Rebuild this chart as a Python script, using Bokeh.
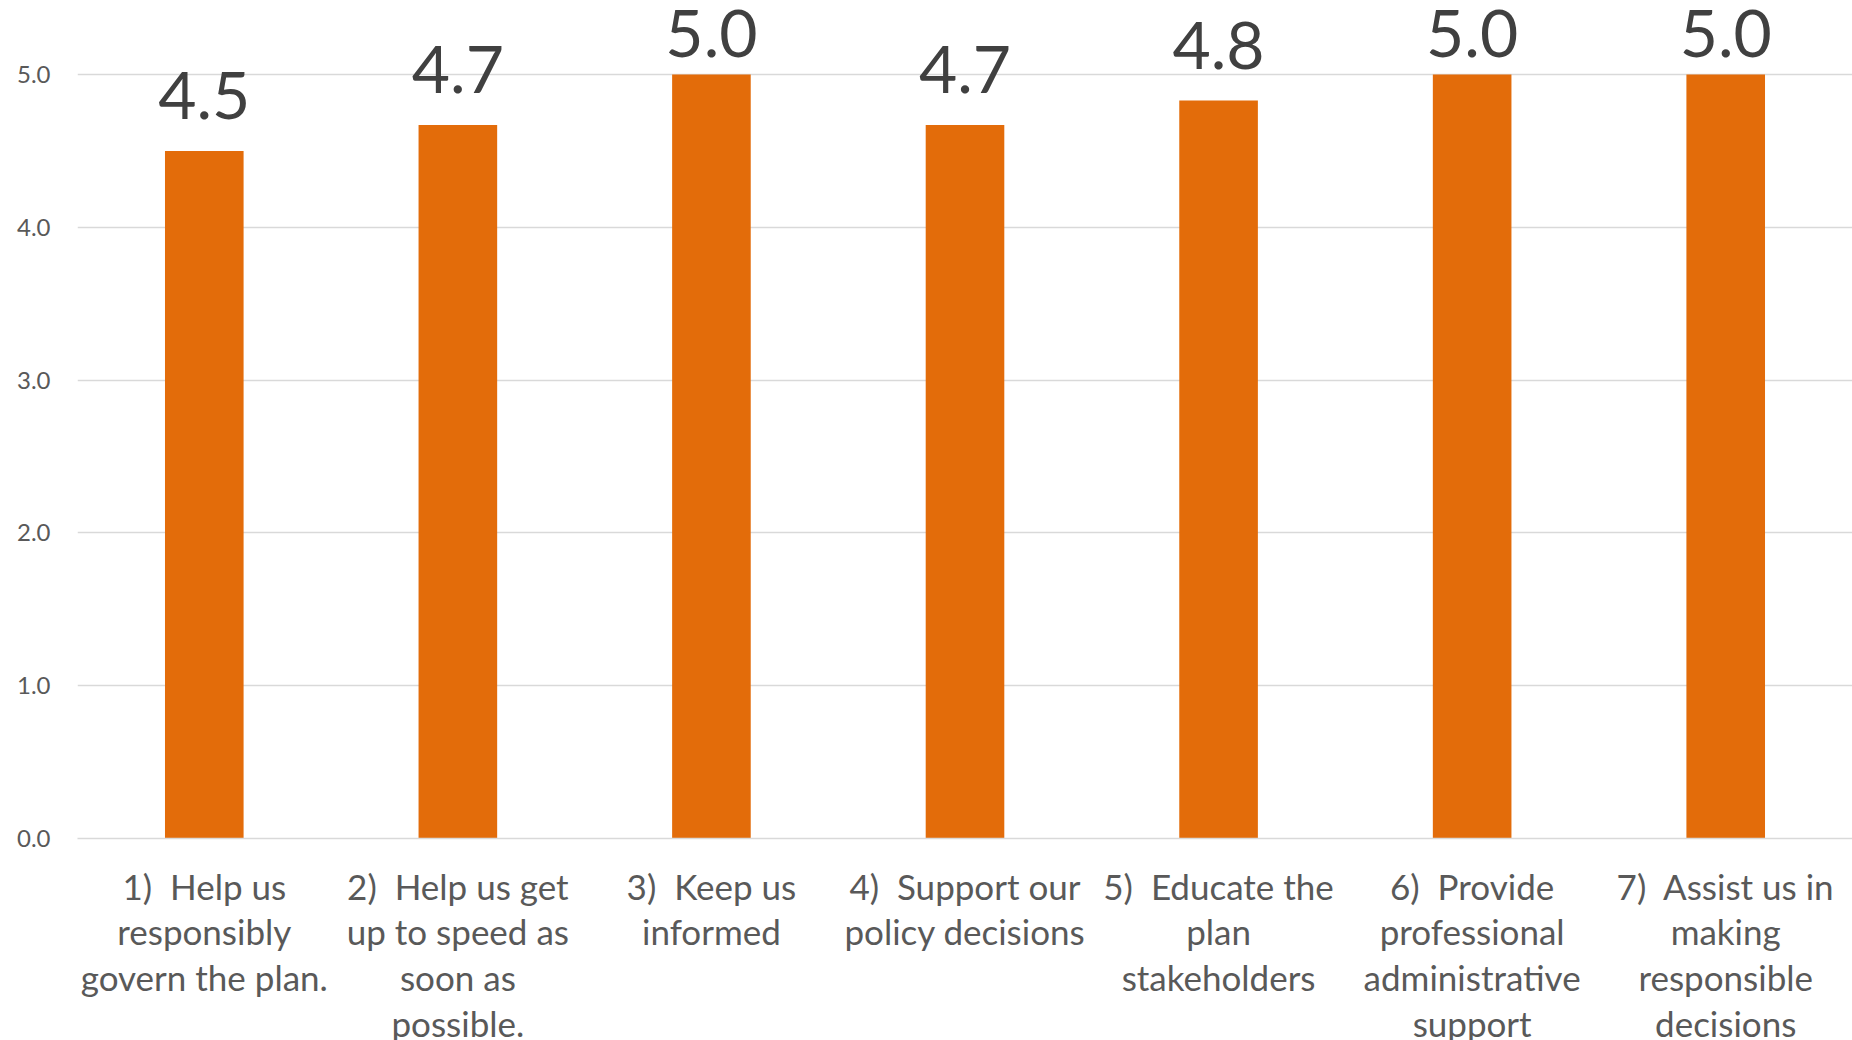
import numpy as np
from bokeh.plotting import figure
from bokeh.models import FactorRange, Range1d, FixedTicker, ColumnDataSource, NumeralTickFormatter
from bokeh.core.properties import value
from bokeh.embed import file_html
from bokeh.resources import INLINE

S = "\u00a0 "  # double space as in the original labels
categories = [
    f"1){S}Help us\nresponsibly\ngovern the plan.",
    f"2){S}Help us get\nup to speed as\nsoon as\npossible.",
    f"3){S}Keep us\ninformed",
    f"4){S}Support our\npolicy decisions",
    f"5){S}Educate the\nplan\nstakeholders",
    f"6){S}Provide\nprofessional\nadministrative\nsupport",
    f"7){S}Assist us in\nmaking\nresponsible\ndecisions",
]
scores = [4.5, 4.67, 5.0, 4.67, 4.83, 5.0, 5.0]
score_labels = ["4.5", "4.7", "5.0", "4.7", "4.8", "5.0", "5.0"]
y_ticks = [0, 1, 2, 3, 4, 5]

FONT = "Lato"
FRAME_H = 838
PX_PER_UNIT = 152.8
Y_END = FRAME_H / PX_PER_UNIT

vals = np.array(scores)
label_y = np.minimum(vals + 55 / PX_PER_UNIT, Y_END - 32.5 / PX_PER_UNIT)

src = ColumnDataSource(dict(cat=categories, score=scores, lab=score_labels, ly=label_y))

p = figure(
    x_range=FactorRange(*categories, range_padding=0),
    y_range=Range1d(0, Y_END),
    frame_width=1775, frame_height=FRAME_H,
    output_backend="svg", toolbar_location=None,
    min_border_left=77, min_border_right=0, min_border_top=0, min_border_bottom=0,
)
p.outline_line_color = None
p.background_fill_color = "white"
p.border_fill_color = "white"

p.vbar(x="cat", top="score", width=0.31, bottom=0, source=src,
       fill_color="#E36C0A", line_color=None)

p.text(x="cat", y="ly", text="lab", source=src,
       text_align="center", text_baseline="alphabetic",
       text_font=value(FONT), text_font_size="66px", text_color="#404040")

# y axis
p.yaxis.ticker = FixedTicker(ticks=y_ticks)
p.yaxis.formatter = NumeralTickFormatter(format="0.0")
p.yaxis.axis_line_color = None
p.yaxis.major_tick_line_color = None
p.yaxis.minor_tick_line_color = None
p.yaxis.major_label_standoff = 21
p.yaxis.major_label_text_font = FONT
p.yaxis.major_label_text_font_size = "24px"
p.yaxis.major_label_text_color = "#595959"

# x axis
p.xaxis.axis_line_color = "#d9d9d9"
p.xaxis.axis_line_width = 1.5
p.xaxis.major_tick_line_color = None
p.xaxis.minor_tick_line_color = None
p.xaxis.major_label_standoff = 20
p.xaxis.major_label_text_font = FONT
p.xaxis.major_label_text_font_size = "35px"
p.xaxis.major_label_text_line_height = 1.09
p.xaxis.major_label_text_color = "#595959"
p.xaxis.major_label_orientation = "horizontal"

p.xgrid.grid_line_color = None
p.ygrid.grid_line_color = "#d9d9d9"
p.ygrid.grid_line_width = 1.5

open("out.html", "w").write(file_html(p, INLINE))
